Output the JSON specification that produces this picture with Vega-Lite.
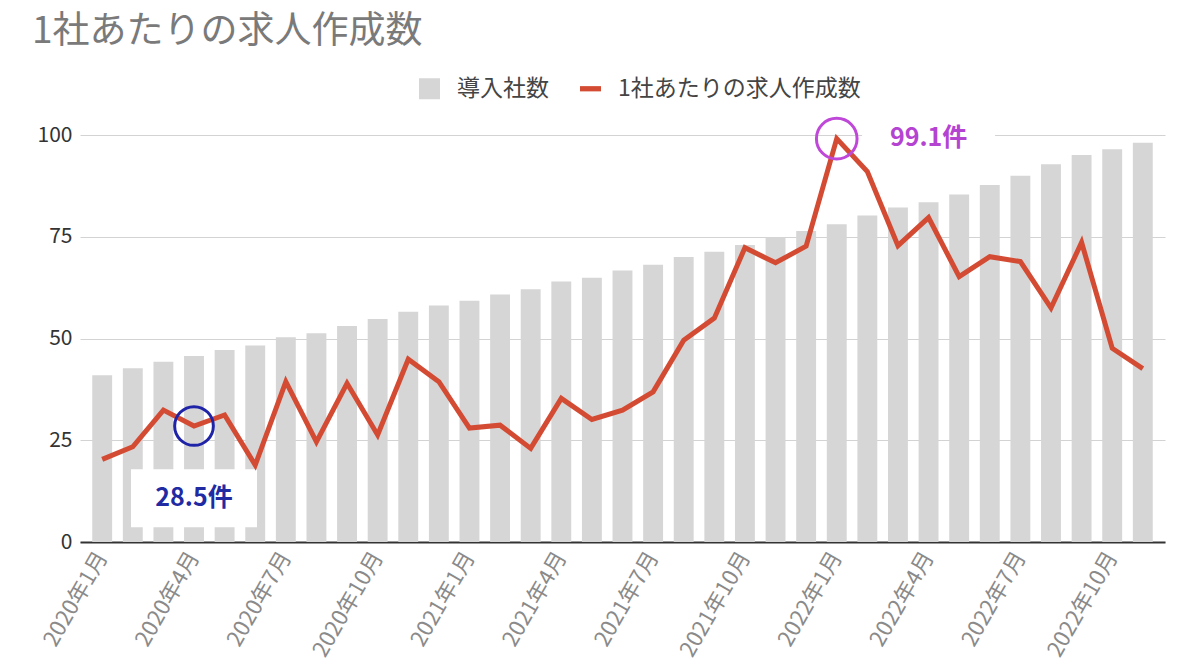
{
  "$schema": "https://vega.github.io/schema/vega-lite/v6.json",
  "description": "1社あたりの求人作成数: 導入社数 (bars) and jobs created per company (line), monthly 2020-2022.",
  "width": 1085,
  "height": 407,
  "autosize": {"type": "none"},
  "padding": {"left": 80, "top": 135, "right": 35, "bottom": 129},
  "title": {
    "text": "1社あたりの求人作成数",
    "anchor": "start",
    "frame": "bounds",
    "font": "Noto Sans CJK JP",
    "fontSize": 37,
    "fontWeight": "normal",
    "color": "#7a7a7a",
    "dx": -5,
    "offset": 26
  },
  "config": {
    "font": "Noto Sans CJK JP",
    "view": {"stroke": null}
  },
  "data": {
    "values": [
      {"month": "2020年1月", "companies": 41.0, "jobs": 20.3},
      {"month": "2020年2月", "companies": 42.7, "jobs": 23.4},
      {"month": "2020年3月", "companies": 44.3, "jobs": 32.4},
      {"month": "2020年4月", "companies": 45.7, "jobs": 28.5},
      {"month": "2020年5月", "companies": 47.2, "jobs": 31.2},
      {"month": "2020年6月", "companies": 48.3, "jobs": 18.9},
      {"month": "2020年7月", "companies": 50.3, "jobs": 39.4},
      {"month": "2020年8月", "companies": 51.3, "jobs": 24.6},
      {"month": "2020年9月", "companies": 53.1, "jobs": 39.0},
      {"month": "2020年10月", "companies": 54.8, "jobs": 26.3},
      {"month": "2020年11月", "companies": 56.6, "jobs": 44.9},
      {"month": "2020年12月", "companies": 58.1, "jobs": 39.4},
      {"month": "2021年1月", "companies": 59.3, "jobs": 28.0},
      {"month": "2021年2月", "companies": 60.8, "jobs": 28.7},
      {"month": "2021年3月", "companies": 62.1, "jobs": 23.0},
      {"month": "2021年4月", "companies": 64.0, "jobs": 35.3},
      {"month": "2021年5月", "companies": 64.9, "jobs": 30.1},
      {"month": "2021年6月", "companies": 66.7, "jobs": 32.4},
      {"month": "2021年7月", "companies": 68.1, "jobs": 36.9},
      {"month": "2021年8月", "companies": 70.0, "jobs": 49.6},
      {"month": "2021年9月", "companies": 71.3, "jobs": 55.0},
      {"month": "2021年10月", "companies": 73.0, "jobs": 72.3},
      {"month": "2021年11月", "companies": 74.9, "jobs": 68.6},
      {"month": "2021年12月", "companies": 76.4, "jobs": 72.7},
      {"month": "2022年1月", "companies": 78.1, "jobs": 99.1},
      {"month": "2022年2月", "companies": 80.2, "jobs": 91.0},
      {"month": "2022年3月", "companies": 82.2, "jobs": 72.8},
      {"month": "2022年4月", "companies": 83.5, "jobs": 79.7},
      {"month": "2022年5月", "companies": 85.4, "jobs": 65.2},
      {"month": "2022年6月", "companies": 87.7, "jobs": 70.1},
      {"month": "2022年7月", "companies": 90.0, "jobs": 68.9},
      {"month": "2022年8月", "companies": 92.8, "jobs": 57.5},
      {"month": "2022年9月", "companies": 95.1, "jobs": 73.6},
      {"month": "2022年10月", "companies": 96.5, "jobs": 47.6},
      {"month": "2022年11月", "companies": 98.1, "jobs": 42.6}
    ]
  },
  "encoding": {
    "x": {
      "field": "month",
      "type": "nominal",
      "sort": null,
      "title": null,
      "scale": {
        "type": "band",
        "paddingInner": 0.35,
        "paddingOuter": 0.4,
        "domain": [
          "2020年1月", "2020年2月", "2020年3月", "2020年4月", "2020年5月", "2020年6月",
          "2020年7月", "2020年8月", "2020年9月", "2020年10月", "2020年11月", "2020年12月",
          "2021年1月", "2021年2月", "2021年3月", "2021年4月", "2021年5月", "2021年6月",
          "2021年7月", "2021年8月", "2021年9月", "2021年10月", "2021年11月", "2021年12月",
          "2022年1月", "2022年2月", "2022年3月", "2022年4月", "2022年5月", "2022年6月",
          "2022年7月", "2022年8月", "2022年9月", "2022年10月", "2022年11月"
        ]
      },
      "axis": {
        "values": [
          "2020年1月", "2020年4月", "2020年7月", "2020年10月",
          "2021年1月", "2021年4月", "2021年7月", "2021年10月",
          "2022年1月", "2022年4月", "2022年7月", "2022年10月"
        ],
        "labelAngle": -60,
        "labelFontSize": 22,
        "labelColor": "#8a8a8a",
        "labelPadding": 11,
        "labelLimit": 0,
        "ticks": false,
        "domainColor": "#333333",
        "domainWidth": 2,
        "grid": false
      }
    }
  },
  "layer": [
    {
      "mark": {"type": "bar"},
      "encoding": {
        "y": {
          "field": "companies",
          "type": "quantitative",
          "title": null,
          "scale": {"domain": [0, 100], "nice": false},
          "axis": {
            "values": [0, 25, 50, 75, 100],
            "domain": false,
            "ticks": false,
            "labelFontSize": 21,
            "labelColor": "#333333",
            "labelPadding": 8,
            "gridColor": "#d3d3d3",
            "gridWidth": 1
          }
        },
        "color": {
          "datum": "導入社数",
          "scale": {
            "domain": ["導入社数", "1社あたりの求人作成数"],
            "range": ["#d6d6d6", "#d44b33"]
          },
          "legend": {
            "title": null,
            "orient": "none",
            "direction": "horizontal",
            "legendX": 338,
            "legendY": -58,
            "symbolSize": 440,
            "labelFontSize": 23,
            "labelColor": "#444444",
            "labelLimit": 0,
            "labelOffset": 16,
            "columnPadding": 30,
            "encode": {
              "symbols": {
                "update": {
                  "shape": {"signal": "datum.value === '導入社数' ? 'square' : 'M-1,-0.25H1V0.25H-1Z'"},
                  "fill": {"signal": "datum.value === '導入社数' ? '#d6d6d6' : '#d44b33'"},
                  "stroke": {"value": "transparent"},
                  "strokeWidth": {"value": 0},
                  "opacity": {"value": 1}
                }
              }
            }
          }
        }
      }
    },
    {
      "transform": [{"filter": "datum.month === '2020年4月'"}],
      "mark": {"type": "bar", "color": "#ffffff", "width": 126},
      "encoding": {
        "y": {"datum": 3.6, "type": "quantitative"},
        "y2": {"datum": 17.9}
      }
    },
    {
      "transform": [{"filter": "datum.month === '2022年4月'"}],
      "mark": {"type": "bar", "color": "#ffffff", "width": 133},
      "encoding": {
        "y": {"datum": 96.5, "type": "quantitative"},
        "y2": {"datum": 103}
      }
    },
    {
      "mark": {"type": "line", "strokeWidth": 5, "strokeJoin": "miter"},
      "encoding": {
        "y": {"field": "jobs", "type": "quantitative"},
        "color": {"datum": "1社あたりの求人作成数"}
      }
    },
    {
      "transform": [{"filter": "datum.month === '2020年4月'"}],
      "mark": {"type": "point", "shape": "circle", "filled": false, "color": "#1f23a8", "strokeWidth": 3, "size": 1500, "opacity": 1},
      "encoding": {
        "y": {"field": "jobs", "type": "quantitative"}
      }
    },
    {
      "transform": [{"filter": "datum.month === '2022年1月'"}],
      "mark": {"type": "point", "shape": "circle", "filled": false, "color": "#bf48d8", "strokeWidth": 3, "size": 1650, "opacity": 1},
      "encoding": {
        "y": {"field": "jobs", "type": "quantitative"}
      }
    },
    {
      "transform": [{"filter": "datum.month === '2020年4月'"}],
      "mark": {"type": "text", "font": "Noto Sans CJK JP", "fontSize": 25, "fontWeight": "bold", "color": "#1f2aa3", "baseline": "middle", "align": "center"},
      "encoding": {
        "y": {"datum": 10.8, "type": "quantitative"},
        "text": {"value": "28.5件"}
      }
    },
    {
      "transform": [{"filter": "datum.month === '2022年4月'"}],
      "mark": {"type": "text", "font": "Noto Sans CJK JP", "fontSize": 25, "fontWeight": "bold", "color": "#b443d2", "baseline": "middle", "align": "center"},
      "encoding": {
        "y": {"datum": 99.3, "type": "quantitative"},
        "text": {"value": "99.1件"}
      }
    }
  ]
}
